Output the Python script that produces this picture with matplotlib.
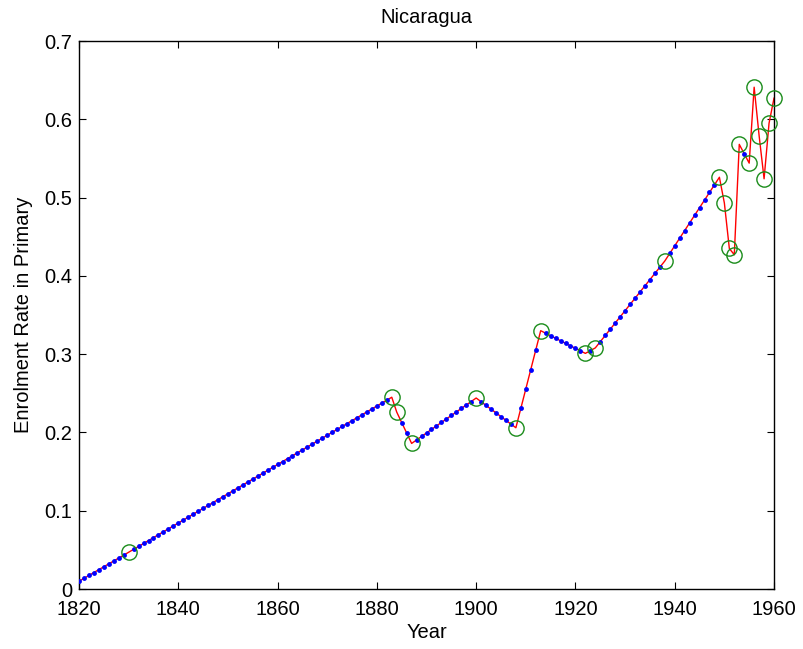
import numpy as np
import matplotlib
matplotlib.use("Agg")
import matplotlib.pyplot as plt

plt.rcParams['font.family'] = ['Liberation Sans', 'DejaVu Sans']

# Observed enrolment rates (green circles)
obs_years = [1830, 1883, 1884, 1887, 1900, 1908, 1913, 1922, 1924, 1938,
             1949, 1950, 1951, 1952, 1953, 1955, 1956, 1957, 1958, 1959, 1960]
obs_values = [0.047, 0.245, 0.226, 0.186, 0.244, 0.206, 0.330, 0.301, 0.308, 0.419,
              0.526, 0.493, 0.435, 0.427, 0.568, 0.544, 0.641, 0.579, 0.524, 0.595, 0.627]

# Starting anchor of the series (no circle)
start_year = 1820
start_value = 0.010

title = "Nicaragua"
xlabel = "Year"
ylabel = "Enrolment Rate in Primary"
xticks = [1820, 1840, 1860, 1880, 1900, 1920, 1940, 1960]
yticks = [0, 0.1, 0.2, 0.3, 0.4, 0.5, 0.6, 0.7]
ytick_labels = ['0', '0.1', '0.2', '0.3', '0.4', '0.5', '0.6', '0.7']

anchor_years = np.array([start_year] + obs_years)
anchor_values = np.array([start_value] + obs_values)

# Yearly series as drawn in the chart (straight segments between observations)
all_years = np.arange(start_year, 1961)
est_years = np.array([y for y in all_years if y not in obs_years])
est_values = np.interp(est_years, anchor_years, anchor_values)

fig = plt.figure(figsize=(8.04, 6.49), dpi=100)
ax = fig.add_axes([0.0983, 0.0924, 0.8644, 0.8444])

ax.plot(anchor_years, anchor_values, '-', color='red', lw=1.0, zorder=2)
ax.plot(est_years, est_values, 'o', color='blue', ms=3.5, mew=0, zorder=3)
ax.plot(obs_years, obs_values, 'o', mfc='none', mec='#1a8c1a', ms=11, mew=1.0,
        zorder=4, clip_on=False)

ax.set_xlim(1820, 1960)
ax.set_ylim(0, 0.7)
ax.set_xticks(xticks)
ax.set_yticks(yticks)
ax.set_yticklabels(ytick_labels)
ax.tick_params(direction='in', top=True, right=True, length=5, width=0.8,
               labelsize=14.5)
ax.tick_params(axis='y', pad=5)
ax.tick_params(axis='x', pad=8)
for s in ax.spines.values():
    s.set_linewidth(1.0)

ax.set_title(title, fontsize=14.5, pad=13)
ax.set_xlabel(xlabel, fontsize=14.5, labelpad=3)
ax.set_ylabel(ylabel, fontsize=14.5, labelpad=8)

fig.savefig("out.png", dpi=100)
